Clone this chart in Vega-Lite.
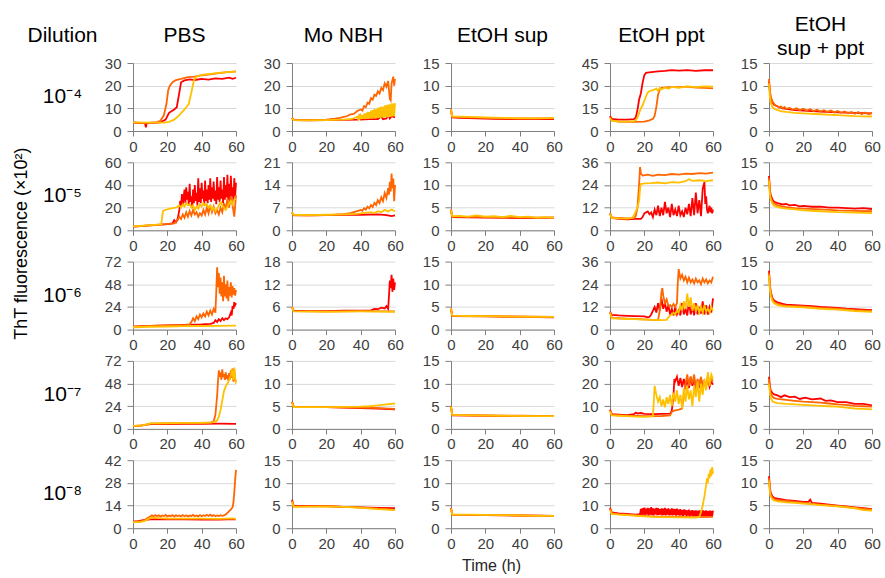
{
"$schema":"https://vega.github.io/schema/vega-lite/v6.json",
"padding":{"left":13,"top":14,"right":0,"bottom":0},
"title":{"text":"ThT fluorescence (×10²)","orient":"left","anchor":"middle","fontSize":18,"offset":-4,"dx":50},
"columns":6,
"spacing":{"row":31.3,"column":56},
"bounds":"flush",
"datasets":{
"a1":[{"s":1,"t":0,"v":3.7},{"s":1,"t":3,"v":3.6},{"s":1,"t":6,"v":3.5},{"s":1,"t":7,"v":3.4},{"s":1,"t":7.5,"v":1.6},{"s":1,"t":8,"v":3.5},{"s":1,"t":12,"v":3.6},{"s":1,"t":16,"v":3.8},{"s":1,"t":19,"v":5},{"s":1,"t":21,"v":8},{"s":1,"t":24,"v":9.5},{"s":1,"t":25.5,"v":10.5},{"s":1,"t":27,"v":17},{"s":1,"t":28,"v":21.5},{"s":1,"t":30,"v":22.3},{"s":1,"t":33,"v":22.8},{"s":1,"t":36,"v":22.5},{"s":1,"t":40,"v":23},{"s":1,"t":44,"v":22.7},{"s":1,"t":48,"v":23.2},{"s":1,"t":52,"v":23},{"s":1,"t":56,"v":23.5},{"s":1,"t":58,"v":23},{"s":1,"t":60,"v":23.5},
{"s":2,"t":0,"v":3.8},{"s":2,"t":5,"v":3.6},{"s":2,"t":10,"v":3.7},{"s":2,"t":14,"v":3.9},{"s":2,"t":16,"v":4.5},{"s":2,"t":18,"v":7},{"s":2,"t":19.5,"v":12},{"s":2,"t":20.5,"v":18},{"s":2,"t":21.5,"v":20},{"s":2,"t":23,"v":21.5},{"s":2,"t":25,"v":22.5},{"s":2,"t":28,"v":23},{"s":2,"t":32,"v":23.8},{"s":2,"t":36,"v":24},{"s":2,"t":40,"v":24.6},{"s":2,"t":45,"v":25},{"s":2,"t":50,"v":25.5},{"s":2,"t":55,"v":26},{"s":2,"t":60,"v":26.3},
{"s":3,"t":0,"v":3.8},{"s":3,"t":10,"v":3.7},{"s":3,"t":18,"v":3.7},{"s":3,"t":21,"v":4},{"s":3,"t":24,"v":5},{"s":3,"t":27,"v":7},{"s":3,"t":30,"v":9.5},{"s":3,"t":32.5,"v":12},{"s":3,"t":34,"v":17},{"s":3,"t":35.5,"v":22.5},{"s":3,"t":37,"v":24},{"s":3,"t":40,"v":24.8},{"s":3,"t":45,"v":25.2},{"s":3,"t":50,"v":25.6},{"s":3,"t":55,"v":26},{"s":3,"t":60,"v":26.2}],
"a2":[{"s":1,"t":0,"v":5.8},{"s":1,"t":1,"v":4.8},{"s":1,"t":10,"v":4.7},{"s":1,"t":20,"v":4.8},{"s":1,"t":30,"v":4.9},{"s":1,"t":38,"v":5},{"s":1,"t":39.5,"v":6.8},{"s":1,"t":40,"v":5},{"s":1,"t":45,"v":5.2},{"s":1,"t":50,"v":5.3},{"s":1,"t":52,"v":6.5},{"s":1,"t":53,"v":5.2},{"s":1,"t":55,"v":5.5},{"s":1,"t":56,"v":7.2},{"s":1,"t":57,"v":5.5},{"s":1,"t":58,"v":6.5},{"s":1,"t":60,"v":6},
{"s":2,"t":0,"v":5.8},{"s":2,"t":1,"v":4.9},{"s":2,"t":10,"v":4.8},{"s":2,"t":20,"v":5},{"s":2,"t":25,"v":5.4},{"s":2,"t":28,"v":5.8},{"s":2,"t":30,"v":6.2},{"s":2,"t":32,"v":6.5},{"s":2,"t":34,"v":7.3},{"s":2,"t":36,"v":7.5},{"s":2,"t":38,"v":8.8},{"s":2,"t":40,"v":9.5},{"s":2,"t":41,"v":9},{"s":2,"t":42,"v":11},{"s":2,"t":43,"v":10.5},{"s":2,"t":44,"v":12.5},{"s":2,"t":45,"v":12},{"s":2,"t":46,"v":14.5},{"s":2,"t":47,"v":13.8},{"s":2,"t":48,"v":16},{"s":2,"t":49,"v":15.5},{"s":2,"t":50,"v":17.5},{"s":2,"t":51,"v":16.5},{"s":2,"t":52,"v":19},{"s":2,"t":53,"v":18},{"s":2,"t":54,"v":21},{"s":2,"t":55,"v":19.5},{"s":2,"t":56,"v":22},{"s":2,"t":57,"v":14},{"s":2,"t":57.5,"v":13.5},{"s":2,"t":58,"v":21},{"s":2,"t":59,"v":24},{"s":2,"t":59.5,"v":20},{"s":2,"t":60,"v":23},
{"s":3,"t":0,"v":5.5},{"s":3,"t":1,"v":4.8},{"s":3,"t":10,"v":4.7},{"s":3,"t":20,"v":4.8},{"s":3,"t":30,"v":5},{"s":3,"t":35,"v":5.3},{"s":3,"t":38,"v":6.3},{"s":3,"t":38.5,"v":5.2},{"s":3,"t":39,"v":6.6},{"s":3,"t":39.5,"v":5.2},{"s":3,"t":40,"v":7.1},{"s":3,"t":40.5,"v":5.3},{"s":3,"t":41,"v":7},{"s":3,"t":41.5,"v":5.4},{"s":3,"t":42,"v":7.7},{"s":3,"t":42.5,"v":5.3},{"s":3,"t":43,"v":7.9},{"s":3,"t":43.5,"v":5.5},{"s":3,"t":44,"v":8.4},{"s":3,"t":44.5,"v":5.4},{"s":3,"t":45,"v":8.3},{"s":3,"t":45.5,"v":5.6},{"s":3,"t":46,"v":9},{"s":3,"t":46.5,"v":5.5},{"s":3,"t":47,"v":9.2},{"s":3,"t":47.5,"v":5.7},{"s":3,"t":48,"v":9.7},{"s":3,"t":48.5,"v":5.6},{"s":3,"t":49,"v":9.6},{"s":3,"t":49.5,"v":5.8},{"s":3,"t":50,"v":10.2},{"s":3,"t":50.5,"v":5.8},{"s":3,"t":51,"v":10.4},{"s":3,"t":51.5,"v":5.9},{"s":3,"t":52,"v":10.8},{"s":3,"t":52.5,"v":6},{"s":3,"t":53,"v":10.7},{"s":3,"t":53.5,"v":6},{"s":3,"t":54,"v":11.2},{"s":3,"t":54.5,"v":6.1},{"s":3,"t":55,"v":11.4},{"s":3,"t":55.5,"v":6.1},{"s":3,"t":56,"v":11.7},{"s":3,"t":56.5,"v":6.2},{"s":3,"t":57,"v":11.8},{"s":3,"t":57.5,"v":6.3},{"s":3,"t":58,"v":12.2},{"s":3,"t":58.5,"v":6.4},{"s":3,"t":59,"v":12.1},{"s":3,"t":59.5,"v":6.5},{"s":3,"t":60,"v":12.3}],
"a3":[{"s":1,"t":0,"v":4.6},{"s":1,"t":0.7,"v":3},{"s":1,"t":5,"v":2.9},{"s":1,"t":15,"v":2.8},{"s":1,"t":25,"v":2.7},{"s":1,"t":35,"v":2.6},{"s":1,"t":60,"v":2.6},
{"s":2,"t":0,"v":4.8},{"s":2,"t":0.7,"v":3.1},{"s":2,"t":10,"v":3},{"s":2,"t":20,"v":2.9},{"s":2,"t":30,"v":2.8},{"s":2,"t":60,"v":2.8},
{"s":3,"t":0,"v":4.7},{"s":3,"t":0.7,"v":3.2},{"s":3,"t":10,"v":3.1},{"s":3,"t":20,"v":3},{"s":3,"t":30,"v":2.9},{"s":3,"t":40,"v":2.8},{"s":3,"t":50,"v":2.8},{"s":3,"t":60,"v":2.9}],
"a4":[{"s":1,"t":0,"v":10},{"s":1,"t":1,"v":8},{"s":1,"t":5,"v":7.5},{"s":1,"t":10,"v":7.5},{"s":1,"t":14,"v":7.8},{"s":1,"t":15,"v":9},{"s":1,"t":16,"v":14},{"s":1,"t":17,"v":21},{"s":1,"t":18,"v":25},{"s":1,"t":19,"v":32},{"s":1,"t":20,"v":37},{"s":1,"t":21,"v":38.5},{"s":1,"t":24,"v":39},{"s":1,"t":28,"v":39.5},{"s":1,"t":32,"v":39.8},{"s":1,"t":36,"v":40.3},{"s":1,"t":40,"v":40},{"s":1,"t":45,"v":40.3},{"s":1,"t":50,"v":39.8},{"s":1,"t":55,"v":40.2},{"s":1,"t":60,"v":40.2},
{"s":2,"t":0,"v":9},{"s":2,"t":1,"v":7},{"s":2,"t":5,"v":6.2},{"s":2,"t":10,"v":6},{"s":2,"t":15,"v":6},{"s":2,"t":20,"v":6.2},{"s":2,"t":23,"v":7},{"s":2,"t":25,"v":8},{"s":2,"t":26,"v":10},{"s":2,"t":27,"v":16},{"s":2,"t":28,"v":24},{"s":2,"t":29,"v":27.5},{"s":2,"t":30,"v":28.5},{"s":2,"t":35,"v":29},{"s":2,"t":40,"v":29},{"s":2,"t":45,"v":29.3},{"s":2,"t":50,"v":28.8},{"s":2,"t":55,"v":28.5},{"s":2,"t":60,"v":28.2},
{"s":3,"t":0,"v":8.5},{"s":3,"t":1,"v":6.8},{"s":3,"t":5,"v":6.3},{"s":3,"t":10,"v":6.2},{"s":3,"t":14,"v":6.5},{"s":3,"t":15,"v":7},{"s":3,"t":16,"v":9},{"s":3,"t":17,"v":12},{"s":3,"t":18,"v":15},{"s":3,"t":19,"v":17},{"s":3,"t":20,"v":20},{"s":3,"t":21,"v":23},{"s":3,"t":22,"v":25.5},{"s":3,"t":23,"v":26.5},{"s":3,"t":25,"v":27},{"s":3,"t":27,"v":28},{"s":3,"t":28,"v":26.5},{"s":3,"t":29,"v":28.5},{"s":3,"t":30,"v":27.5},{"s":3,"t":32,"v":28.8},{"s":3,"t":34,"v":28},{"s":3,"t":36,"v":29.2},{"s":3,"t":40,"v":28.5},{"s":3,"t":45,"v":29.5},{"s":3,"t":50,"v":29},{"s":3,"t":55,"v":29.5},{"s":3,"t":60,"v":29.3}],
"a5":[{"s":1,"t":0,"v":11},{"s":1,"t":0.5,"v":8.5},{"s":1,"t":1,"v":7.3},{"s":1,"t":2,"v":6.3},{"s":1,"t":3,"v":5.8},{"s":1,"t":5,"v":5.4},{"s":1,"t":8,"v":5},{"s":1,"t":10,"v":4.9},{"s":1,"t":15,"v":4.6},{"s":1,"t":20,"v":4.5},{"s":1,"t":30,"v":4.3},{"s":1,"t":40,"v":4.1},{"s":1,"t":50,"v":4},{"s":1,"t":60,"v":3.9},
{"s":2,"t":0,"v":11.5},{"s":2,"t":0.5,"v":9},{"s":2,"t":1,"v":7.6},{"s":2,"t":2,"v":6.5},{"s":2,"t":3,"v":6},{"s":2,"t":4,"v":5.6},{"s":2,"t":5,"v":5.5},{"s":2,"t":6,"v":5.1},{"s":2,"t":7,"v":5.4},{"s":2,"t":8,"v":5},{"s":2,"t":9,"v":5.3},{"s":2,"t":10,"v":4.9},{"s":2,"t":12,"v":5.1},{"s":2,"t":14,"v":4.7},{"s":2,"t":16,"v":5},{"s":2,"t":18,"v":4.6},{"s":2,"t":20,"v":4.9},{"s":2,"t":22,"v":4.5},{"s":2,"t":24,"v":4.8},{"s":2,"t":26,"v":4.4},{"s":2,"t":28,"v":4.7},{"s":2,"t":30,"v":4.3},{"s":2,"t":32,"v":4.6},{"s":2,"t":34,"v":4.2},{"s":2,"t":36,"v":4.5},{"s":2,"t":38,"v":4.1},{"s":2,"t":40,"v":4.4},{"s":2,"t":42,"v":4},{"s":2,"t":44,"v":4.3},{"s":2,"t":46,"v":3.9},{"s":2,"t":48,"v":4.2},{"s":2,"t":50,"v":3.8},{"s":2,"t":52,"v":4.2},{"s":2,"t":54,"v":3.7},{"s":2,"t":56,"v":4.1},{"s":2,"t":58,"v":3.7},{"s":2,"t":60,"v":4},
{"s":3,"t":0,"v":10.5},{"s":3,"t":0.5,"v":7.5},{"s":3,"t":1,"v":6.2},{"s":3,"t":2,"v":5.3},{"s":3,"t":3,"v":4.9},{"s":3,"t":5,"v":4.6},{"s":3,"t":8,"v":4.3},{"s":3,"t":10,"v":4.2},{"s":3,"t":15,"v":4},{"s":3,"t":20,"v":3.9},{"s":3,"t":30,"v":3.7},{"s":3,"t":40,"v":3.5},{"s":3,"t":50,"v":3.3},{"s":3,"t":60,"v":3.2}],
"b1":[{"s":1,"t":0,"v":3.2},{"s":1,"t":10,"v":4.3},{"s":1,"t":20,"v":5.5},{"s":1,"t":23,"v":6},{"s":1,"t":24,"v":9},{"s":1,"t":25,"v":7},{"s":1,"t":26,"v":10},{"s":1,"t":27,"v":18},{"s":1,"t":27.5,"v":26},{"s":1,"t":28,"v":20},{"s":1,"t":28.5,"v":32},{"s":1,"t":29,"v":22},{"s":1,"t":30,"v":36},{"s":1,"t":30.5,"v":24},{"s":1,"t":31,"v":38},{"s":1,"t":31.5,"v":27},{"s":1,"t":32,"v":34},{"s":1,"t":32.5,"v":22},{"s":1,"t":33,"v":41},{"s":1,"t":33.5,"v":25},{"s":1,"t":34,"v":30},{"s":1,"t":34.5,"v":20},{"s":1,"t":35,"v":36},{"s":1,"t":35.5,"v":24},{"s":1,"t":36,"v":40},{"s":1,"t":36.5,"v":26},{"s":1,"t":37,"v":33},{"s":1,"t":37.5,"v":22},{"s":1,"t":38,"v":46},{"s":1,"t":38.5,"v":25},{"s":1,"t":39,"v":37},{"s":1,"t":39.5,"v":24},{"s":1,"t":40,"v":42},{"s":1,"t":40.5,"v":28},{"s":1,"t":41,"v":35},{"s":1,"t":41.5,"v":22},{"s":1,"t":42,"v":44},{"s":1,"t":42.5,"v":26},{"s":1,"t":43,"v":36},{"s":1,"t":43.5,"v":24},{"s":1,"t":44,"v":40},{"s":1,"t":44.5,"v":27},{"s":1,"t":45,"v":46},{"s":1,"t":45.5,"v":25},{"s":1,"t":46,"v":38},{"s":1,"t":46.5,"v":28},{"s":1,"t":47,"v":43},{"s":1,"t":47.5,"v":26},{"s":1,"t":48,"v":35},{"s":1,"t":48.5,"v":23},{"s":1,"t":49,"v":47},{"s":1,"t":49.5,"v":27},{"s":1,"t":50,"v":38},{"s":1,"t":50.5,"v":25},{"s":1,"t":51,"v":44},{"s":1,"t":51.5,"v":28},{"s":1,"t":52,"v":36},{"s":1,"t":52.5,"v":24},{"s":1,"t":53,"v":47},{"s":1,"t":53.5,"v":27},{"s":1,"t":54,"v":40},{"s":1,"t":54.5,"v":29},{"s":1,"t":55,"v":49},{"s":1,"t":55.5,"v":27},{"s":1,"t":56,"v":41},{"s":1,"t":56.5,"v":25},{"s":1,"t":57,"v":48},{"s":1,"t":57.5,"v":30},{"s":1,"t":58,"v":38},{"s":1,"t":58.5,"v":26},{"s":1,"t":59,"v":46},{"s":1,"t":59.5,"v":30},{"s":1,"t":60,"v":42},
{"s":2,"t":0,"v":3.3},{"s":2,"t":10,"v":4.4},{"s":2,"t":20,"v":5.5},{"s":2,"t":24,"v":6},{"s":2,"t":25,"v":7.5},{"s":2,"t":26,"v":9},{"s":2,"t":27,"v":12},{"s":2,"t":28,"v":10},{"s":2,"t":29,"v":14},{"s":2,"t":30,"v":11},{"s":2,"t":31,"v":16},{"s":2,"t":32,"v":12},{"s":2,"t":33,"v":17},{"s":2,"t":34,"v":13},{"s":2,"t":35,"v":18},{"s":2,"t":36,"v":14},{"s":2,"t":37,"v":16},{"s":2,"t":38,"v":12},{"s":2,"t":39,"v":15},{"s":2,"t":40,"v":13},{"s":2,"t":41,"v":18},{"s":2,"t":42,"v":14},{"s":2,"t":43,"v":20},{"s":2,"t":44,"v":15},{"s":2,"t":45,"v":22},{"s":2,"t":46,"v":16},{"s":2,"t":47,"v":21},{"s":2,"t":48,"v":15},{"s":2,"t":49,"v":18},{"s":2,"t":50,"v":14},{"s":2,"t":51,"v":20},{"s":2,"t":52,"v":16},{"s":2,"t":53,"v":24},{"s":2,"t":54,"v":18},{"s":2,"t":55,"v":28},{"s":2,"t":56,"v":20},{"s":2,"t":57,"v":30},{"s":2,"t":58,"v":22},{"s":2,"t":59,"v":12},{"s":2,"t":60,"v":31},
{"s":3,"t":0,"v":3.4},{"s":3,"t":10,"v":4.5},{"s":3,"t":16.5,"v":5.3},{"s":3,"t":17,"v":12},{"s":3,"t":17.5,"v":17},{"s":3,"t":19,"v":18},{"s":3,"t":21,"v":19},{"s":3,"t":23,"v":19.5},{"s":3,"t":25,"v":20},{"s":3,"t":26,"v":21},{"s":3,"t":27,"v":22},{"s":3,"t":28,"v":20},{"s":3,"t":29,"v":23},{"s":3,"t":30,"v":21},{"s":3,"t":31,"v":24},{"s":3,"t":32,"v":22},{"s":3,"t":33,"v":23},{"s":3,"t":34,"v":20},{"s":3,"t":35,"v":22},{"s":3,"t":36,"v":18},{"s":3,"t":37,"v":21},{"s":3,"t":38,"v":19},{"s":3,"t":39,"v":23},{"s":3,"t":40,"v":21},{"s":3,"t":41,"v":24},{"s":3,"t":42,"v":22},{"s":3,"t":43,"v":23},{"s":3,"t":44,"v":20},{"s":3,"t":45,"v":22},{"s":3,"t":46,"v":18},{"s":3,"t":47,"v":20},{"s":3,"t":48,"v":17},{"s":3,"t":49,"v":19},{"s":3,"t":50,"v":22},{"s":3,"t":51,"v":25},{"s":3,"t":52,"v":22},{"s":3,"t":53,"v":20},{"s":3,"t":54,"v":18},{"s":3,"t":55,"v":21},{"s":3,"t":56,"v":24},{"s":3,"t":57,"v":26},{"s":3,"t":58,"v":23},{"s":3,"t":59,"v":27},{"s":3,"t":60,"v":28}],
"b2":[{"s":1,"t":0,"v":5.5},{"s":1,"t":1,"v":4.7},{"s":1,"t":10,"v":4.6},{"s":1,"t":20,"v":4.7},{"s":1,"t":30,"v":4.8},{"s":1,"t":40,"v":4.8},{"s":1,"t":50,"v":4.9},{"s":1,"t":55,"v":4.7},{"s":1,"t":58,"v":4.4},{"s":1,"t":60,"v":4.6},
{"s":2,"t":0,"v":5.4},{"s":2,"t":1,"v":4.6},{"s":2,"t":10,"v":4.6},{"s":2,"t":20,"v":4.7},{"s":2,"t":30,"v":5},{"s":2,"t":34,"v":5.3},{"s":2,"t":36,"v":5.6},{"s":2,"t":38,"v":5.9},{"s":2,"t":40,"v":6.3},{"s":2,"t":41,"v":6},{"s":2,"t":42,"v":6.8},{"s":2,"t":43,"v":6.4},{"s":2,"t":44,"v":7.3},{"s":2,"t":45,"v":6.8},{"s":2,"t":46,"v":7.8},{"s":2,"t":47,"v":7.2},{"s":2,"t":48,"v":8.5},{"s":2,"t":49,"v":7.8},{"s":2,"t":50,"v":9.3},{"s":2,"t":51,"v":8.4},{"s":2,"t":52,"v":10.2},{"s":2,"t":53,"v":9},{"s":2,"t":54,"v":11.5},{"s":2,"t":55,"v":10},{"s":2,"t":56,"v":13},{"s":2,"t":56.5,"v":11},{"s":2,"t":57,"v":15},{"s":2,"t":57.5,"v":12},{"s":2,"t":58,"v":17.5},{"s":2,"t":58.5,"v":13},{"s":2,"t":59,"v":16},{"s":2,"t":59.5,"v":9},{"s":2,"t":60,"v":14},
{"s":3,"t":0,"v":5.6},{"s":3,"t":1,"v":4.8},{"s":3,"t":10,"v":4.7},{"s":3,"t":20,"v":4.8},{"s":3,"t":30,"v":4.9},{"s":3,"t":38,"v":5.1},{"s":3,"t":42,"v":5.4},{"s":3,"t":46,"v":5.6},{"s":3,"t":48,"v":5.3},{"s":3,"t":50,"v":5.9},{"s":3,"t":52,"v":5.6},{"s":3,"t":54,"v":6.3},{"s":3,"t":56,"v":5.8},{"s":3,"t":58,"v":6.4},{"s":3,"t":60,"v":5.9}],
"b3":[{"s":1,"t":0,"v":4.5},{"s":1,"t":0.7,"v":2.9},{"s":1,"t":20,"v":2.8},{"s":1,"t":40,"v":2.7},{"s":1,"t":60,"v":2.8},
{"s":2,"t":0,"v":4.6},{"s":2,"t":0.7,"v":3},{"s":2,"t":20,"v":2.9},{"s":2,"t":40,"v":2.8},{"s":2,"t":60,"v":2.8},
{"s":3,"t":0,"v":4.5},{"s":3,"t":0.7,"v":3.1},{"s":3,"t":5,"v":3.2},{"s":3,"t":10,"v":3},{"s":3,"t":15,"v":3.3},{"s":3,"t":20,"v":3},{"s":3,"t":25,"v":3.1},{"s":3,"t":30,"v":2.9},{"s":3,"t":35,"v":3.2},{"s":3,"t":40,"v":2.9},{"s":3,"t":45,"v":3},{"s":3,"t":50,"v":2.8},{"s":3,"t":55,"v":2.9},{"s":3,"t":60,"v":2.8}],
"b4":[{"s":1,"t":0,"v":9},{"s":1,"t":1,"v":6.5},{"s":1,"t":5,"v":6},{"s":1,"t":10,"v":5.8},{"s":1,"t":15,"v":6},{"s":1,"t":18,"v":6},{"s":1,"t":19,"v":7},{"s":1,"t":20,"v":9},{"s":1,"t":21,"v":9.5},{"s":1,"t":22,"v":10},{"s":1,"t":23,"v":8.5},{"s":1,"t":24,"v":9.5},{"s":1,"t":25,"v":7},{"s":1,"t":26,"v":11},{"s":1,"t":27,"v":8},{"s":1,"t":28,"v":13},{"s":1,"t":29,"v":7.5},{"s":1,"t":30,"v":12},{"s":1,"t":31,"v":8},{"s":1,"t":32,"v":15},{"s":1,"t":33,"v":9},{"s":1,"t":34,"v":12},{"s":1,"t":35,"v":7},{"s":1,"t":36,"v":14},{"s":1,"t":37,"v":8},{"s":1,"t":38,"v":11},{"s":1,"t":39,"v":7.5},{"s":1,"t":40,"v":13},{"s":1,"t":41,"v":8},{"s":1,"t":42,"v":10},{"s":1,"t":43,"v":7},{"s":1,"t":44,"v":12},{"s":1,"t":45,"v":8.5},{"s":1,"t":46,"v":14},{"s":1,"t":47,"v":7.5},{"s":1,"t":48,"v":17},{"s":1,"t":49,"v":8},{"s":1,"t":50,"v":20},{"s":1,"t":51,"v":9},{"s":1,"t":52,"v":16},{"s":1,"t":53,"v":7.5},{"s":1,"t":54,"v":22},{"s":1,"t":55,"v":25.5},{"s":1,"t":55.5,"v":14},{"s":1,"t":56,"v":18},{"s":1,"t":56.5,"v":11},{"s":1,"t":57,"v":9},{"s":1,"t":58,"v":13},{"s":1,"t":58.5,"v":9.5},{"s":1,"t":59,"v":12},{"s":1,"t":59.5,"v":9},{"s":1,"t":60,"v":11},
{"s":2,"t":0,"v":9},{"s":2,"t":1,"v":6.8},{"s":2,"t":5,"v":6.5},{"s":2,"t":10,"v":6.3},{"s":2,"t":14,"v":6.4},{"s":2,"t":15,"v":7.5},{"s":2,"t":16,"v":12},{"s":2,"t":17,"v":25},{"s":2,"t":17.5,"v":33.5},{"s":2,"t":18,"v":30},{"s":2,"t":19,"v":29},{"s":2,"t":22,"v":29.5},{"s":2,"t":25,"v":28.8},{"s":2,"t":28,"v":29.5},{"s":2,"t":32,"v":29.2},{"s":2,"t":36,"v":29.8},{"s":2,"t":40,"v":29.5},{"s":2,"t":44,"v":30},{"s":2,"t":48,"v":29.8},{"s":2,"t":52,"v":30.3},{"s":2,"t":56,"v":30},{"s":2,"t":60,"v":30.5},
{"s":3,"t":0,"v":8.8},{"s":3,"t":1,"v":6.5},{"s":3,"t":5,"v":6.3},{"s":3,"t":10,"v":6.2},{"s":3,"t":13,"v":6.5},{"s":3,"t":14,"v":8},{"s":3,"t":15,"v":10},{"s":3,"t":16,"v":12},{"s":3,"t":17,"v":16},{"s":3,"t":17.5,"v":22},{"s":3,"t":18,"v":24.5},{"s":3,"t":20,"v":24.8},{"s":3,"t":24,"v":25},{"s":3,"t":28,"v":25.3},{"s":3,"t":32,"v":24.8},{"s":3,"t":36,"v":25.5},{"s":3,"t":40,"v":25.2},{"s":3,"t":44,"v":26},{"s":3,"t":46,"v":27},{"s":3,"t":48,"v":26.2},{"s":3,"t":52,"v":26.5},{"s":3,"t":56,"v":26},{"s":3,"t":60,"v":26.5}],
"b5":[{"s":1,"t":0,"v":12},{"s":1,"t":0.5,"v":9},{"s":1,"t":1,"v":7.8},{"s":1,"t":2,"v":6.8},{"s":1,"t":3,"v":6.3},{"s":1,"t":5,"v":6},{"s":1,"t":8,"v":5.7},{"s":1,"t":10,"v":5.8},{"s":1,"t":12,"v":5.5},{"s":1,"t":15,"v":5.6},{"s":1,"t":18,"v":5.3},{"s":1,"t":20,"v":5.4},{"s":1,"t":25,"v":5.2},{"s":1,"t":30,"v":5.2},{"s":1,"t":35,"v":5},{"s":1,"t":40,"v":5},{"s":1,"t":45,"v":4.9},{"s":1,"t":50,"v":4.8},{"s":1,"t":55,"v":4.9},{"s":1,"t":60,"v":4.7},
{"s":2,"t":0,"v":11.5},{"s":2,"t":0.5,"v":8.5},{"s":2,"t":1,"v":7.2},{"s":2,"t":2,"v":6.3},{"s":2,"t":3,"v":5.9},{"s":2,"t":5,"v":5.5},{"s":2,"t":8,"v":5.2},{"s":2,"t":10,"v":5.1},{"s":2,"t":15,"v":4.9},{"s":2,"t":20,"v":4.8},{"s":2,"t":30,"v":4.6},{"s":2,"t":40,"v":4.4},{"s":2,"t":50,"v":4.3},{"s":2,"t":60,"v":4.2},
{"s":3,"t":0,"v":11},{"s":3,"t":0.5,"v":8},{"s":3,"t":1,"v":6.8},{"s":3,"t":2,"v":5.9},{"s":3,"t":3,"v":5.4},{"s":3,"t":5,"v":5.1},{"s":3,"t":8,"v":4.9},{"s":3,"t":10,"v":4.8},{"s":3,"t":15,"v":4.6},{"s":3,"t":20,"v":4.4},{"s":3,"t":30,"v":4.2},{"s":3,"t":40,"v":4},{"s":3,"t":50,"v":3.9},{"s":3,"t":60,"v":3.8}],
"c1":[{"s":1,"t":0,"v":3},{"s":1,"t":10,"v":4},{"s":1,"t":20,"v":4.5},{"s":1,"t":30,"v":5},{"s":1,"t":40,"v":5.5},{"s":1,"t":45,"v":6},{"s":1,"t":47,"v":7},{"s":1,"t":48,"v":10},{"s":1,"t":49,"v":8},{"s":1,"t":50,"v":11},{"s":1,"t":51,"v":9},{"s":1,"t":52,"v":12},{"s":1,"t":53,"v":10},{"s":1,"t":54,"v":12},{"s":1,"t":55,"v":11},{"s":1,"t":56,"v":13},{"s":1,"t":57,"v":18},{"s":1,"t":57.5,"v":15},{"s":1,"t":58,"v":25},{"s":1,"t":58.5,"v":22},{"s":1,"t":59,"v":29},{"s":1,"t":59.5,"v":26},{"s":1,"t":60,"v":28},
{"s":2,"t":0,"v":3},{"s":2,"t":10,"v":4},{"s":2,"t":20,"v":4.5},{"s":2,"t":30,"v":5},{"s":2,"t":33,"v":5.5},{"s":2,"t":34,"v":8},{"s":2,"t":35,"v":12},{"s":2,"t":36,"v":9},{"s":2,"t":37,"v":14},{"s":2,"t":38,"v":11},{"s":2,"t":39,"v":16},{"s":2,"t":40,"v":13},{"s":2,"t":41,"v":17},{"s":2,"t":42,"v":14},{"s":2,"t":43,"v":19},{"s":2,"t":44,"v":15},{"s":2,"t":45,"v":20},{"s":2,"t":46,"v":16},{"s":2,"t":47,"v":22},{"s":2,"t":48,"v":18},{"s":2,"t":48.5,"v":40},{"s":2,"t":49,"v":66},{"s":2,"t":49.5,"v":45},{"s":2,"t":50,"v":60},{"s":2,"t":50.5,"v":38},{"s":2,"t":51,"v":55},{"s":2,"t":51.5,"v":35},{"s":2,"t":52,"v":50},{"s":2,"t":52.5,"v":30},{"s":2,"t":53,"v":57},{"s":2,"t":53.5,"v":35},{"s":2,"t":54,"v":48},{"s":2,"t":54.5,"v":33},{"s":2,"t":55,"v":52},{"s":2,"t":55.5,"v":30},{"s":2,"t":56,"v":45},{"s":2,"t":56.5,"v":36},{"s":2,"t":57,"v":50},{"s":2,"t":57.5,"v":34},{"s":2,"t":58,"v":46},{"s":2,"t":58.5,"v":37},{"s":2,"t":59,"v":44},{"s":2,"t":59.5,"v":36},{"s":2,"t":60,"v":42},
{"s":3,"t":0,"v":2.5},{"s":3,"t":10,"v":3},{"s":3,"t":20,"v":3.3},{"s":3,"t":30,"v":3.6},{"s":3,"t":40,"v":3.8},{"s":3,"t":50,"v":4},{"s":3,"t":60,"v":4.2}],
"c2":[{"s":1,"t":0,"v":6},{"s":1,"t":1,"v":5},{"s":1,"t":10,"v":4.9},{"s":1,"t":20,"v":4.9},{"s":1,"t":30,"v":5},{"s":1,"t":40,"v":5},{"s":1,"t":46,"v":5.1},{"s":1,"t":48,"v":5.5},{"s":1,"t":50,"v":5.4},{"s":1,"t":52,"v":5.8},{"s":1,"t":54,"v":5.6},{"s":1,"t":55,"v":6.2},{"s":1,"t":56,"v":5.5},{"s":1,"t":56.5,"v":9},{"s":1,"t":57,"v":13},{"s":1,"t":57.5,"v":11},{"s":1,"t":58,"v":14.5},{"s":1,"t":58.5,"v":10},{"s":1,"t":59,"v":13.5},{"s":1,"t":59.5,"v":10.5},{"s":1,"t":60,"v":12.5},
{"s":2,"t":0,"v":5.9},{"s":2,"t":1,"v":4.9},{"s":2,"t":20,"v":4.8},{"s":2,"t":40,"v":4.9},{"s":2,"t":60,"v":4.8},
{"s":3,"t":0,"v":6},{"s":3,"t":1,"v":4.8},{"s":3,"t":20,"v":4.7},{"s":3,"t":40,"v":4.8},{"s":3,"t":60,"v":4.7}],
"c3":[{"s":1,"t":0,"v":4.6},{"s":1,"t":0.7,"v":3},{"s":1,"t":20,"v":2.9},{"s":1,"t":40,"v":2.8},{"s":1,"t":60,"v":2.7},
{"s":2,"t":0,"v":4.7},{"s":2,"t":0.7,"v":3.1},{"s":2,"t":20,"v":3},{"s":2,"t":40,"v":2.9},{"s":2,"t":60,"v":2.8},
{"s":3,"t":0,"v":4.7},{"s":3,"t":0.7,"v":3.1},{"s":3,"t":10,"v":3},{"s":3,"t":30,"v":2.9},{"s":3,"t":50,"v":2.8},{"s":3,"t":60,"v":2.8}],
"c4":[{"s":1,"t":0,"v":9.5},{"s":1,"t":1,"v":7.8},{"s":1,"t":5,"v":7.5},{"s":1,"t":10,"v":7.3},{"s":1,"t":15,"v":7.1},{"s":1,"t":20,"v":7},{"s":1,"t":22,"v":6.5},{"s":1,"t":23,"v":6.8},{"s":1,"t":24,"v":8},{"s":1,"t":25,"v":10},{"s":1,"t":26,"v":12},{"s":1,"t":27,"v":9},{"s":1,"t":28,"v":14},{"s":1,"t":29,"v":10},{"s":1,"t":30,"v":16.5},{"s":1,"t":31,"v":11},{"s":1,"t":32,"v":14},{"s":1,"t":33,"v":9.5},{"s":1,"t":34,"v":13},{"s":1,"t":35,"v":8},{"s":1,"t":36,"v":11},{"s":1,"t":37,"v":7.5},{"s":1,"t":38,"v":12},{"s":1,"t":39,"v":8},{"s":1,"t":40,"v":10},{"s":1,"t":41,"v":7.5},{"s":1,"t":42,"v":14},{"s":1,"t":43,"v":8},{"s":1,"t":44,"v":11},{"s":1,"t":45,"v":7.5},{"s":1,"t":46,"v":15},{"s":1,"t":47,"v":8},{"s":1,"t":48,"v":12},{"s":1,"t":49,"v":7.5},{"s":1,"t":50,"v":14},{"s":1,"t":51,"v":8},{"s":1,"t":52,"v":12},{"s":1,"t":53,"v":8.5},{"s":1,"t":54,"v":15},{"s":1,"t":55,"v":8},{"s":1,"t":56,"v":13},{"s":1,"t":57,"v":8},{"s":1,"t":58,"v":12},{"s":1,"t":59,"v":9},{"s":1,"t":60,"v":16.5},
{"s":2,"t":0,"v":9},{"s":2,"t":1,"v":6.2},{"s":2,"t":5,"v":6},{"s":2,"t":10,"v":5.8},{"s":2,"t":15,"v":5.6},{"s":2,"t":20,"v":5.4},{"s":2,"t":25,"v":5.2},{"s":2,"t":28,"v":5.1},{"s":2,"t":29,"v":10},{"s":2,"t":30,"v":20},{"s":2,"t":30.5,"v":22},{"s":2,"t":31,"v":18},{"s":2,"t":32,"v":14},{"s":2,"t":33,"v":16},{"s":2,"t":34,"v":12.5},{"s":2,"t":35,"v":13},{"s":2,"t":36,"v":12},{"s":2,"t":37,"v":13.5},{"s":2,"t":38,"v":12},{"s":2,"t":39,"v":14},{"s":2,"t":39.5,"v":25},{"s":2,"t":40,"v":32},{"s":2,"t":41,"v":27},{"s":2,"t":42,"v":29},{"s":2,"t":43,"v":26},{"s":2,"t":44,"v":28},{"s":2,"t":45,"v":25},{"s":2,"t":46,"v":27.5},{"s":2,"t":47,"v":25},{"s":2,"t":48,"v":26.5},{"s":2,"t":49,"v":24.5},{"s":2,"t":50,"v":27},{"s":2,"t":51,"v":25},{"s":2,"t":52,"v":26},{"s":2,"t":53,"v":24},{"s":2,"t":54,"v":27},{"s":2,"t":55,"v":25},{"s":2,"t":56,"v":26.5},{"s":2,"t":57,"v":24.5},{"s":2,"t":58,"v":26},{"s":2,"t":59,"v":25},{"s":2,"t":60,"v":28},
{"s":3,"t":0,"v":9},{"s":3,"t":1,"v":6},{"s":3,"t":5,"v":5.8},{"s":3,"t":10,"v":5.6},{"s":3,"t":15,"v":5.5},{"s":3,"t":20,"v":5.3},{"s":3,"t":25,"v":5.1},{"s":3,"t":30,"v":5},{"s":3,"t":33,"v":5.2},{"s":3,"t":34,"v":6.5},{"s":3,"t":35,"v":7.5},{"s":3,"t":36,"v":8},{"s":3,"t":37,"v":9},{"s":3,"t":38,"v":8},{"s":3,"t":39,"v":10},{"s":3,"t":40,"v":9},{"s":3,"t":41,"v":13},{"s":3,"t":42,"v":10},{"s":3,"t":43,"v":15},{"s":3,"t":44,"v":11},{"s":3,"t":45,"v":19},{"s":3,"t":46,"v":12},{"s":3,"t":47,"v":17},{"s":3,"t":48,"v":10},{"s":3,"t":49,"v":14},{"s":3,"t":50,"v":9.5},{"s":3,"t":51,"v":13},{"s":3,"t":52,"v":9},{"s":3,"t":53,"v":12},{"s":3,"t":54,"v":9},{"s":3,"t":55,"v":13},{"s":3,"t":56,"v":9.5},{"s":3,"t":57,"v":11},{"s":3,"t":58,"v":9},{"s":3,"t":59,"v":12},{"s":3,"t":60,"v":10}],
"c5":[{"s":1,"t":0,"v":13},{"s":1,"t":0.5,"v":10},{"s":1,"t":1,"v":8.3},{"s":1,"t":2,"v":7},{"s":1,"t":3,"v":6.4},{"s":1,"t":5,"v":6},{"s":1,"t":8,"v":5.7},{"s":1,"t":10,"v":5.5},{"s":1,"t":15,"v":5.4},{"s":1,"t":20,"v":5.3},{"s":1,"t":25,"v":5.2},{"s":1,"t":30,"v":5},{"s":1,"t":35,"v":4.9},{"s":1,"t":40,"v":4.8},{"s":1,"t":45,"v":4.6},{"s":1,"t":50,"v":4.5},{"s":1,"t":55,"v":4.4},{"s":1,"t":60,"v":4.3},
{"s":2,"t":0,"v":12.5},{"s":2,"t":0.5,"v":9.5},{"s":2,"t":1,"v":8},{"s":2,"t":2,"v":6.7},{"s":2,"t":3,"v":6.1},{"s":2,"t":5,"v":5.7},{"s":2,"t":8,"v":5.4},{"s":2,"t":10,"v":5.3},{"s":2,"t":15,"v":5.2},{"s":2,"t":20,"v":5.1},{"s":2,"t":30,"v":4.8},{"s":2,"t":40,"v":4.6},{"s":2,"t":50,"v":4.3},{"s":2,"t":60,"v":4.1},
{"s":3,"t":0,"v":12},{"s":3,"t":0.5,"v":9},{"s":3,"t":1,"v":7.5},{"s":3,"t":2,"v":6.3},{"s":3,"t":3,"v":5.8},{"s":3,"t":5,"v":5.4},{"s":3,"t":8,"v":5.2},{"s":3,"t":10,"v":5.1},{"s":3,"t":15,"v":5},{"s":3,"t":20,"v":4.9},{"s":3,"t":30,"v":4.6},{"s":3,"t":40,"v":4.4},{"s":3,"t":50,"v":4.1},{"s":3,"t":60,"v":3.9}],
"d1":[{"s":1,"t":0,"v":3},{"s":1,"t":5,"v":3.8},{"s":1,"t":8,"v":4.5},{"s":1,"t":10,"v":5},{"s":1,"t":20,"v":5.2},{"s":1,"t":30,"v":5.3},{"s":1,"t":40,"v":5.4},{"s":1,"t":50,"v":5.5},{"s":1,"t":60,"v":5.3},
{"s":2,"t":0,"v":3},{"s":2,"t":5,"v":3.5},{"s":2,"t":8,"v":4.5},{"s":2,"t":10,"v":5.5},{"s":2,"t":20,"v":5.8},{"s":2,"t":30,"v":6},{"s":2,"t":40,"v":6.2},{"s":2,"t":45,"v":6.5},{"s":2,"t":47,"v":8},{"s":2,"t":48,"v":15},{"s":2,"t":48.5,"v":25},{"s":2,"t":49,"v":35},{"s":2,"t":49.5,"v":50},{"s":2,"t":50,"v":62},{"s":2,"t":50.5,"v":55},{"s":2,"t":51,"v":60},{"s":2,"t":51.5,"v":52},{"s":2,"t":52,"v":63},{"s":2,"t":52.5,"v":55},{"s":2,"t":53,"v":58},{"s":2,"t":53.5,"v":52},{"s":2,"t":54,"v":60},{"s":2,"t":54.5,"v":53},{"s":2,"t":55,"v":57},{"s":2,"t":55.5,"v":51},{"s":2,"t":56,"v":59},{"s":2,"t":56.5,"v":52},{"s":2,"t":57,"v":62},{"s":2,"t":57.5,"v":54},{"s":2,"t":58,"v":64},{"s":2,"t":58.5,"v":50},{"s":2,"t":59,"v":63},{"s":2,"t":59.5,"v":52},{"s":2,"t":60,"v":50},
{"s":3,"t":0,"v":3.2},{"s":3,"t":5,"v":3.7},{"s":3,"t":8,"v":4.8},{"s":3,"t":10,"v":5.8},{"s":3,"t":20,"v":6},{"s":3,"t":30,"v":6.3},{"s":3,"t":40,"v":6.5},{"s":3,"t":46,"v":7},{"s":3,"t":48,"v":7.5},{"s":3,"t":49,"v":9},{"s":3,"t":50,"v":13},{"s":3,"t":51,"v":20},{"s":3,"t":52,"v":30},{"s":3,"t":53,"v":40},{"s":3,"t":54,"v":45},{"s":3,"t":55,"v":48},{"s":3,"t":56,"v":52},{"s":3,"t":57,"v":56},{"s":3,"t":57.5,"v":63},{"s":3,"t":58,"v":60},{"s":3,"t":58.5,"v":52},{"s":3,"t":59,"v":65},{"s":3,"t":59.5,"v":55},{"s":3,"t":60,"v":48}],
"d2":[{"s":1,"t":0,"v":6},{"s":1,"t":1,"v":4.9},{"s":1,"t":20,"v":4.8},{"s":1,"t":40,"v":4.6},{"s":1,"t":50,"v":4.5},{"s":1,"t":60,"v":4.3},
{"s":2,"t":0,"v":5.9},{"s":2,"t":1,"v":4.9},{"s":2,"t":20,"v":4.8},{"s":2,"t":40,"v":4.7},{"s":2,"t":50,"v":4.6},{"s":2,"t":60,"v":4.4},
{"s":3,"t":0,"v":5.8},{"s":3,"t":1,"v":4.8},{"s":3,"t":20,"v":4.8},{"s":3,"t":40,"v":4.9},{"s":3,"t":45,"v":5},{"s":3,"t":50,"v":5.2},{"s":3,"t":55,"v":5.4},{"s":3,"t":60,"v":5.6}],
"d3":[{"s":1,"t":0,"v":5},{"s":1,"t":0.7,"v":3},{"s":1,"t":20,"v":2.9},{"s":1,"t":40,"v":2.8},{"s":1,"t":60,"v":2.8},
{"s":2,"t":0,"v":5},{"s":2,"t":0.7,"v":3.1},{"s":2,"t":20,"v":3},{"s":2,"t":40,"v":2.9},{"s":2,"t":60,"v":2.8},
{"s":3,"t":0,"v":4.9},{"s":3,"t":0.7,"v":3.1},{"s":3,"t":10,"v":3},{"s":3,"t":30,"v":2.9},{"s":3,"t":50,"v":2.8},{"s":3,"t":60,"v":2.8}],
"d4":[{"s":1,"t":0,"v":8.5},{"s":1,"t":1,"v":6.5},{"s":1,"t":5,"v":6.3},{"s":1,"t":10,"v":6.1},{"s":1,"t":14,"v":6.5},{"s":1,"t":15,"v":7.2},{"s":1,"t":16,"v":6.8},{"s":1,"t":18,"v":7},{"s":1,"t":20,"v":6.6},{"s":1,"t":25,"v":6.5},{"s":1,"t":30,"v":6.6},{"s":1,"t":35,"v":6.7},{"s":1,"t":36,"v":8},{"s":1,"t":37,"v":15},{"s":1,"t":37.5,"v":22},{"s":1,"t":38,"v":21},{"s":1,"t":39,"v":23},{"s":1,"t":40,"v":19},{"s":1,"t":41,"v":22.5},{"s":1,"t":42,"v":18.5},{"s":1,"t":43,"v":22},{"s":1,"t":44,"v":19},{"s":1,"t":45,"v":21.5},{"s":1,"t":46,"v":18},{"s":1,"t":47,"v":23},{"s":1,"t":48,"v":19},{"s":1,"t":49,"v":22},{"s":1,"t":50,"v":18.5},{"s":1,"t":51,"v":21},{"s":1,"t":52,"v":19},{"s":1,"t":53,"v":22.5},{"s":1,"t":54,"v":18},{"s":1,"t":55,"v":21},{"s":1,"t":56,"v":19},{"s":1,"t":57,"v":22},{"s":1,"t":58,"v":18.5},{"s":1,"t":59,"v":21},{"s":1,"t":60,"v":19.5},
{"s":2,"t":0,"v":8},{"s":2,"t":1,"v":6.2},{"s":2,"t":5,"v":6},{"s":2,"t":10,"v":5.8},{"s":2,"t":20,"v":5.6},{"s":2,"t":30,"v":5.7},{"s":2,"t":35,"v":6},{"s":2,"t":36,"v":7.5},{"s":2,"t":37,"v":8},{"s":2,"t":40,"v":8.5},{"s":2,"t":42,"v":9},{"s":2,"t":43,"v":15},{"s":2,"t":44,"v":20},{"s":2,"t":45,"v":24},{"s":2,"t":46,"v":19},{"s":2,"t":47,"v":23},{"s":2,"t":48,"v":20},{"s":2,"t":49,"v":24},{"s":2,"t":50,"v":18},{"s":2,"t":51,"v":22},{"s":2,"t":52,"v":19},{"s":2,"t":53,"v":23},{"s":2,"t":54,"v":18},{"s":2,"t":55,"v":21},{"s":2,"t":56,"v":19},{"s":2,"t":57,"v":23.5},{"s":2,"t":58,"v":20},{"s":2,"t":59,"v":22},{"s":2,"t":60,"v":21},
{"s":3,"t":0,"v":7.8},{"s":3,"t":1,"v":6},{"s":3,"t":5,"v":5.8},{"s":3,"t":10,"v":5.6},{"s":3,"t":15,"v":5.4},{"s":3,"t":20,"v":5.3},{"s":3,"t":25,"v":5.5},{"s":3,"t":25.5,"v":12},{"s":3,"t":26,"v":19},{"s":3,"t":27,"v":15},{"s":3,"t":28,"v":12},{"s":3,"t":29,"v":14},{"s":3,"t":30,"v":10},{"s":3,"t":31,"v":13},{"s":3,"t":32,"v":9.5},{"s":3,"t":33,"v":14},{"s":3,"t":34,"v":11},{"s":3,"t":35,"v":15},{"s":3,"t":36,"v":10},{"s":3,"t":37,"v":16},{"s":3,"t":38,"v":12},{"s":3,"t":39,"v":17},{"s":3,"t":40,"v":11},{"s":3,"t":41,"v":15},{"s":3,"t":42,"v":9},{"s":3,"t":43,"v":18},{"s":3,"t":44,"v":12},{"s":3,"t":45,"v":19},{"s":3,"t":46,"v":13},{"s":3,"t":47,"v":17},{"s":3,"t":48,"v":10},{"s":3,"t":49,"v":19},{"s":3,"t":50,"v":14},{"s":3,"t":51,"v":21},{"s":3,"t":52,"v":12},{"s":3,"t":53,"v":20},{"s":3,"t":54,"v":15},{"s":3,"t":55,"v":22},{"s":3,"t":56,"v":17},{"s":3,"t":57,"v":25},{"s":3,"t":58,"v":19},{"s":3,"t":59,"v":24},{"s":3,"t":60,"v":22}],
"d5":[{"s":1,"t":0,"v":11.5},{"s":1,"t":0.5,"v":9.5},{"s":1,"t":1,"v":8.5},{"s":1,"t":2,"v":7.9},{"s":1,"t":3,"v":7.6},{"s":1,"t":5,"v":7.4},{"s":1,"t":7,"v":7},{"s":1,"t":9,"v":7.4},{"s":1,"t":12,"v":7},{"s":1,"t":15,"v":7.1},{"s":1,"t":18,"v":6.6},{"s":1,"t":21,"v":6.9},{"s":1,"t":25,"v":6.5},{"s":1,"t":30,"v":6.7},{"s":1,"t":33,"v":6.2},{"s":1,"t":36,"v":6.3},{"s":1,"t":40,"v":5.9},{"s":1,"t":45,"v":5.9},{"s":1,"t":50,"v":5.5},{"s":1,"t":55,"v":5.5},{"s":1,"t":60,"v":5.2},
{"s":2,"t":0,"v":11},{"s":2,"t":0.5,"v":9},{"s":2,"t":1,"v":7.8},{"s":2,"t":2,"v":7.1},{"s":2,"t":3,"v":6.8},{"s":2,"t":5,"v":6.6},{"s":2,"t":10,"v":6.4},{"s":2,"t":15,"v":6.2},{"s":2,"t":20,"v":6},{"s":2,"t":25,"v":5.9},{"s":2,"t":30,"v":5.8},{"s":2,"t":35,"v":5.6},{"s":2,"t":40,"v":5.4},{"s":2,"t":45,"v":5.3},{"s":2,"t":50,"v":5.1},{"s":2,"t":55,"v":5},{"s":2,"t":60,"v":4.9},
{"s":3,"t":0,"v":10},{"s":3,"t":0.5,"v":8},{"s":3,"t":1,"v":6.8},{"s":3,"t":2,"v":6.1},{"s":3,"t":3,"v":5.9},{"s":3,"t":5,"v":5.7},{"s":3,"t":10,"v":5.5},{"s":3,"t":15,"v":5.4},{"s":3,"t":20,"v":5.3},{"s":3,"t":25,"v":5.2},{"s":3,"t":30,"v":5.1},{"s":3,"t":35,"v":5},{"s":3,"t":40,"v":4.9},{"s":3,"t":45,"v":4.7},{"s":3,"t":50,"v":4.5},{"s":3,"t":55,"v":4.4},{"s":3,"t":60,"v":4.3}],
"e1":[{"s":1,"t":0,"v":4},{"s":1,"t":3,"v":4.3},{"s":1,"t":6,"v":5},{"s":1,"t":10,"v":5.5},{"s":1,"t":15,"v":5.6},{"s":1,"t":20,"v":5.5},{"s":1,"t":30,"v":5.4},{"s":1,"t":40,"v":5.3},{"s":1,"t":50,"v":5.3},{"s":1,"t":55,"v":5.4},{"s":1,"t":60,"v":5.5},
{"s":2,"t":0,"v":4},{"s":2,"t":3,"v":4.1},{"s":2,"t":6,"v":4.5},{"s":2,"t":8,"v":6},{"s":2,"t":10,"v":7.2},{"s":2,"t":11,"v":7.9},{"s":2,"t":12,"v":7.3},{"s":2,"t":13,"v":8.1},{"s":2,"t":14,"v":7.4},{"s":2,"t":15,"v":8},{"s":2,"t":16,"v":7.2},{"s":2,"t":17,"v":7.9},{"s":2,"t":18,"v":7.5},{"s":2,"t":19,"v":8.2},{"s":2,"t":20,"v":7.3},{"s":2,"t":21,"v":7.8},{"s":2,"t":22,"v":7.4},{"s":2,"t":23,"v":8.1},{"s":2,"t":24,"v":7.2},{"s":2,"t":25,"v":8},{"s":2,"t":26,"v":7.5},{"s":2,"t":27,"v":7.9},{"s":2,"t":28,"v":7.3},{"s":2,"t":29,"v":8.1},{"s":2,"t":30,"v":7.4},{"s":2,"t":31,"v":8},{"s":2,"t":32,"v":7.3},{"s":2,"t":33,"v":7.8},{"s":2,"t":34,"v":7.5},{"s":2,"t":35,"v":8.2},{"s":2,"t":36,"v":7.4},{"s":2,"t":37,"v":7.9},{"s":2,"t":38,"v":7.3},{"s":2,"t":39,"v":8.1},{"s":2,"t":40,"v":7.4},{"s":2,"t":41,"v":8},{"s":2,"t":42,"v":7.5},{"s":2,"t":43,"v":8.3},{"s":2,"t":44,"v":7.6},{"s":2,"t":45,"v":8.4},{"s":2,"t":46,"v":7.5},{"s":2,"t":47,"v":8.1},{"s":2,"t":48,"v":7.4},{"s":2,"t":49,"v":7.9},{"s":2,"t":50,"v":7.5},{"s":2,"t":51,"v":8},{"s":2,"t":52,"v":7.6},{"s":2,"t":53,"v":7.9},{"s":2,"t":54,"v":8.5},{"s":2,"t":55,"v":9.5},{"s":2,"t":56,"v":10.5},{"s":2,"t":57,"v":11.5},{"s":2,"t":58,"v":13},{"s":2,"t":58.5,"v":16},{"s":2,"t":59,"v":22},{"s":2,"t":59.5,"v":30},{"s":2,"t":60,"v":36},
{"s":3,"t":0,"v":3.8},{"s":3,"t":4,"v":3.8},{"s":3,"t":7,"v":4.5},{"s":3,"t":9,"v":5.8},{"s":3,"t":11,"v":6.5},{"s":3,"t":15,"v":6.2},{"s":3,"t":20,"v":6},{"s":3,"t":30,"v":5.9},{"s":3,"t":40,"v":5.9},{"s":3,"t":50,"v":5.8},{"s":3,"t":55,"v":5.9},{"s":3,"t":58,"v":6},{"s":3,"t":60,"v":5.6}],
"e2":[{"s":1,"t":0,"v":6.3},{"s":1,"t":1,"v":4.9},{"s":1,"t":20,"v":4.9},{"s":1,"t":30,"v":4.7},{"s":1,"t":40,"v":4.6},{"s":1,"t":50,"v":4.5},{"s":1,"t":60,"v":4.4},
{"s":2,"t":0,"v":6},{"s":2,"t":1,"v":4.8},{"s":2,"t":20,"v":4.8},{"s":2,"t":30,"v":4.7},{"s":2,"t":40,"v":4.6},{"s":2,"t":50,"v":4.3},{"s":2,"t":60,"v":4.1},
{"s":3,"t":0,"v":5.8},{"s":3,"t":1,"v":4.7},{"s":3,"t":20,"v":4.8},{"s":3,"t":30,"v":4.7},{"s":3,"t":40,"v":4.5},{"s":3,"t":50,"v":4.2},{"s":3,"t":60,"v":4}],
"e3":[{"s":1,"t":0,"v":4.5},{"s":1,"t":0.7,"v":3},{"s":1,"t":20,"v":2.9},{"s":1,"t":40,"v":2.8},{"s":1,"t":60,"v":2.7},
{"s":2,"t":0,"v":4.4},{"s":2,"t":0.7,"v":3},{"s":2,"t":20,"v":2.9},{"s":2,"t":40,"v":2.8},{"s":2,"t":60,"v":2.7},
{"s":3,"t":0,"v":4.3},{"s":3,"t":0.7,"v":3},{"s":3,"t":10,"v":3},{"s":3,"t":30,"v":2.9},{"s":3,"t":50,"v":2.7},{"s":3,"t":60,"v":2.7}],
"e4":[{"s":1,"t":0,"v":9},{"s":1,"t":1,"v":7},{"s":1,"t":5,"v":6.5},{"s":1,"t":10,"v":6.3},{"s":1,"t":15,"v":6},{"s":1,"t":17.5,"v":6.2},{"s":1,"t":18,"v":8.5},{"s":1,"t":18.5,"v":5.6},{"s":1,"t":19,"v":8.9},{"s":1,"t":19.5,"v":6},{"s":1,"t":20,"v":9.1},{"s":1,"t":20.5,"v":5.8},{"s":1,"t":21,"v":8.6},{"s":1,"t":21.5,"v":6.1},{"s":1,"t":22,"v":9},{"s":1,"t":22.5,"v":5.7},{"s":1,"t":23,"v":8.7},{"s":1,"t":23.5,"v":6},{"s":1,"t":24,"v":9.3},{"s":1,"t":24.5,"v":5.9},{"s":1,"t":25,"v":8.8},{"s":1,"t":25.5,"v":5.6},{"s":1,"t":26,"v":8.6},{"s":1,"t":26.5,"v":6.1},{"s":1,"t":27,"v":9},{"s":1,"t":27.5,"v":5.8},{"s":1,"t":28,"v":8.9},{"s":1,"t":28.5,"v":5.9},{"s":1,"t":29,"v":8.4},{"s":1,"t":29.5,"v":6},{"s":1,"t":30,"v":8.8},{"s":1,"t":30.5,"v":5.7},{"s":1,"t":31,"v":8.6},{"s":1,"t":31.5,"v":5.9},{"s":1,"t":32,"v":9},{"s":1,"t":32.5,"v":5.6},{"s":1,"t":33,"v":8.5},{"s":1,"t":33.5,"v":6},{"s":1,"t":34,"v":8.7},{"s":1,"t":34.5,"v":5.7},{"s":1,"t":35,"v":8.3},{"s":1,"t":35.5,"v":5.8},{"s":1,"t":36,"v":8.8},{"s":1,"t":36.5,"v":5.6},{"s":1,"t":37,"v":8.5},{"s":1,"t":37.5,"v":5.9},{"s":1,"t":38,"v":8.4},{"s":1,"t":38.5,"v":5.5},{"s":1,"t":39,"v":8.6},{"s":1,"t":39.5,"v":5.8},{"s":1,"t":40,"v":8.2},{"s":1,"t":40.5,"v":5.5},{"s":1,"t":41,"v":8.4},{"s":1,"t":41.5,"v":5.7},{"s":1,"t":42,"v":8},{"s":1,"t":42.5,"v":5.4},{"s":1,"t":43,"v":8.3},{"s":1,"t":43.5,"v":5.8},{"s":1,"t":44,"v":8.1},{"s":1,"t":44.5,"v":5.4},{"s":1,"t":45,"v":7.9},{"s":1,"t":45.5,"v":5.6},{"s":1,"t":46,"v":8.2},{"s":1,"t":46.5,"v":5.3},{"s":1,"t":47,"v":7.8},{"s":1,"t":47.5,"v":5.6},{"s":1,"t":48,"v":8},{"s":1,"t":48.5,"v":5.3},{"s":1,"t":49,"v":7.7},{"s":1,"t":49.5,"v":5.5},{"s":1,"t":50,"v":7.9},{"s":1,"t":50.5,"v":5.2},{"s":1,"t":51,"v":7.6},{"s":1,"t":51.5,"v":5.4},{"s":1,"t":52,"v":7.9},{"s":1,"t":52.5,"v":5.2},{"s":1,"t":53,"v":7.7},{"s":1,"t":53.5,"v":5.4},{"s":1,"t":54,"v":8},{"s":1,"t":54.5,"v":5.2},{"s":1,"t":55,"v":7.6},{"s":1,"t":55.5,"v":5.3},{"s":1,"t":56,"v":7.9},{"s":1,"t":56.5,"v":5.1},{"s":1,"t":57,"v":7.5},{"s":1,"t":57.5,"v":5.3},{"s":1,"t":58,"v":7.8},{"s":1,"t":58.5,"v":5.1},{"s":1,"t":59,"v":7.6},{"s":1,"t":59.5,"v":5.2},{"s":1,"t":60,"v":7.8},
{"s":2,"t":0,"v":8.5},{"s":2,"t":1,"v":6.5},{"s":2,"t":5,"v":6.2},{"s":2,"t":10,"v":6},{"s":2,"t":15,"v":5.7},{"s":2,"t":20,"v":5.4},{"s":2,"t":25,"v":5.2},{"s":2,"t":30,"v":5.1},{"s":2,"t":40,"v":5},{"s":2,"t":50,"v":4.9},{"s":2,"t":60,"v":5},
{"s":3,"t":0,"v":8},{"s":3,"t":1,"v":6.3},{"s":3,"t":5,"v":6},{"s":3,"t":10,"v":5.8},{"s":3,"t":15,"v":5.5},{"s":3,"t":20,"v":5.2},{"s":3,"t":25,"v":5},{"s":3,"t":30,"v":4.9},{"s":3,"t":40,"v":4.8},{"s":3,"t":50,"v":4.7},{"s":3,"t":52,"v":5},{"s":3,"t":53,"v":7},{"s":3,"t":54,"v":10},{"s":3,"t":55,"v":14},{"s":3,"t":56,"v":19},{"s":3,"t":56.5,"v":22},{"s":3,"t":57,"v":20},{"s":3,"t":57.5,"v":24},{"s":3,"t":58,"v":22},{"s":3,"t":58.5,"v":26},{"s":3,"t":59,"v":23},{"s":3,"t":59.5,"v":27},{"s":3,"t":60,"v":24}],
"e5":[{"s":1,"t":0,"v":11.5},{"s":1,"t":0.5,"v":9},{"s":1,"t":1,"v":7.8},{"s":1,"t":2,"v":7},{"s":1,"t":3,"v":6.7},{"s":1,"t":5,"v":6.5},{"s":1,"t":10,"v":6.2},{"s":1,"t":15,"v":6},{"s":1,"t":20,"v":5.8},{"s":1,"t":23,"v":5.8},{"s":1,"t":24,"v":6.3},{"s":1,"t":25,"v":5.6},{"s":1,"t":30,"v":5.4},{"s":1,"t":35,"v":5.2},{"s":1,"t":40,"v":5},{"s":1,"t":45,"v":4.8},{"s":1,"t":50,"v":4.6},{"s":1,"t":55,"v":4.4},{"s":1,"t":60,"v":4.2},
{"s":2,"t":0,"v":11},{"s":2,"t":0.5,"v":8.5},{"s":2,"t":1,"v":7.3},{"s":2,"t":2,"v":6.7},{"s":2,"t":3,"v":6.4},{"s":2,"t":5,"v":6.2},{"s":2,"t":10,"v":6},{"s":2,"t":15,"v":5.8},{"s":2,"t":20,"v":5.6},{"s":2,"t":30,"v":5.2},{"s":2,"t":40,"v":4.9},{"s":2,"t":50,"v":4.5},{"s":2,"t":60,"v":4.1},
{"s":3,"t":0,"v":10.5},{"s":3,"t":0.5,"v":8},{"s":3,"t":1,"v":7},{"s":3,"t":2,"v":6.4},{"s":3,"t":3,"v":6.1},{"s":3,"t":5,"v":5.9},{"s":3,"t":10,"v":5.7},{"s":3,"t":15,"v":5.6},{"s":3,"t":20,"v":5.4},{"s":3,"t":30,"v":5.1},{"s":3,"t":40,"v":4.8},{"s":3,"t":50,"v":4.4},{"s":3,"t":55,"v":4},{"s":3,"t":60,"v":3.9}]
},
"concat":[
{"width":29,"height":68,"title":{"text":"Dilution","offset":17},"data":{"values":[{"l":"10⁻⁴"}]},"mark":{"type":"text","fontSize":21},"encoding":{"text":{"field":"l"}}},
{"title":"PBS","data":{"name":"a1"},"mark":"line","encoding":{"x":{"field":"t","type":"quantitative","title":null,"scale":{"domain":[0,60]},"axis":{"values":[0,20,40,60]}},"y":{"field":"v","type":"quantitative","title":null,"scale":{"domain":[0,30]},"axis":{"values":[0,10,20,30]}},"color":{"field":"s","type":"nominal"}}},
{"title":"Mo NBH","data":{"name":"a2"},"mark":"line","encoding":{"x":{"field":"t","type":"quantitative","title":null,"scale":{"domain":[0,60]},"axis":{"values":[0,20,40,60]}},"y":{"field":"v","type":"quantitative","title":null,"scale":{"domain":[0,30]},"axis":{"values":[0,10,20,30]}},"color":{"field":"s","type":"nominal"}}},
{"title":"EtOH sup","data":{"name":"a3"},"mark":"line","encoding":{"x":{"field":"t","type":"quantitative","title":null,"scale":{"domain":[0,60]},"axis":{"values":[0,20,40,60]}},"y":{"field":"v","type":"quantitative","title":null,"scale":{"domain":[0,15]},"axis":{"values":[0,5,10,15]}},"color":{"field":"s","type":"nominal"}}},
{"title":"EtOH ppt","data":{"name":"a4"},"mark":"line","encoding":{"x":{"field":"t","type":"quantitative","title":null,"scale":{"domain":[0,60]},"axis":{"values":[0,20,40,60]}},"y":{"field":"v","type":"quantitative","title":null,"scale":{"domain":[0,45]},"axis":{"values":[0,15,30,45]}},"color":{"field":"s","type":"nominal"}}},
{"title":{"text":["EtOH","sup + ppt"],"offset":-3},"data":{"name":"a5"},"mark":"line","encoding":{"x":{"field":"t","type":"quantitative","title":null,"scale":{"domain":[0,60]},"axis":{"values":[0,20,40,60]}},"y":{"field":"v","type":"quantitative","title":null,"scale":{"domain":[0,15]},"axis":{"values":[0,5,10,15]}},"color":{"field":"s","type":"nominal"}}},
{"width":29,"height":68,"data":{"values":[{"l":"10⁻⁵"}]},"mark":{"type":"text","fontSize":21},"encoding":{"text":{"field":"l"}}},
{"data":{"name":"b1"},"mark":"line","encoding":{"x":{"field":"t","type":"quantitative","title":null,"scale":{"domain":[0,60]},"axis":{"values":[0,20,40,60]}},"y":{"field":"v","type":"quantitative","title":null,"scale":{"domain":[0,60]},"axis":{"values":[0,20,40,60]}},"color":{"field":"s","type":"nominal"}}},
{"data":{"name":"b2"},"mark":"line","encoding":{"x":{"field":"t","type":"quantitative","title":null,"scale":{"domain":[0,60]},"axis":{"values":[0,20,40,60]}},"y":{"field":"v","type":"quantitative","title":null,"scale":{"domain":[0,21]},"axis":{"values":[0,7,14,21]}},"color":{"field":"s","type":"nominal"}}},
{"data":{"name":"b3"},"mark":"line","encoding":{"x":{"field":"t","type":"quantitative","title":null,"scale":{"domain":[0,60]},"axis":{"values":[0,20,40,60]}},"y":{"field":"v","type":"quantitative","title":null,"scale":{"domain":[0,15]},"axis":{"values":[0,5,10,15]}},"color":{"field":"s","type":"nominal"}}},
{"data":{"name":"b4"},"mark":"line","encoding":{"x":{"field":"t","type":"quantitative","title":null,"scale":{"domain":[0,60]},"axis":{"values":[0,20,40,60]}},"y":{"field":"v","type":"quantitative","title":null,"scale":{"domain":[0,36]},"axis":{"values":[0,12,24,36]}},"color":{"field":"s","type":"nominal"}}},
{"data":{"name":"b5"},"mark":"line","encoding":{"x":{"field":"t","type":"quantitative","title":null,"scale":{"domain":[0,60]},"axis":{"values":[0,20,40,60]}},"y":{"field":"v","type":"quantitative","title":null,"scale":{"domain":[0,15]},"axis":{"values":[0,5,10,15]}},"color":{"field":"s","type":"nominal"}}},
{"width":29,"height":68,"data":{"values":[{"l":"10⁻⁶"}]},"mark":{"type":"text","fontSize":21},"encoding":{"text":{"field":"l"}}},
{"data":{"name":"c1"},"mark":"line","encoding":{"x":{"field":"t","type":"quantitative","title":null,"scale":{"domain":[0,60]},"axis":{"values":[0,20,40,60]}},"y":{"field":"v","type":"quantitative","title":null,"scale":{"domain":[0,72]},"axis":{"values":[0,24,48,72]}},"color":{"field":"s","type":"nominal"}}},
{"data":{"name":"c2"},"mark":"line","encoding":{"x":{"field":"t","type":"quantitative","title":null,"scale":{"domain":[0,60]},"axis":{"values":[0,20,40,60]}},"y":{"field":"v","type":"quantitative","title":null,"scale":{"domain":[0,18]},"axis":{"values":[0,6,12,18]}},"color":{"field":"s","type":"nominal"}}},
{"data":{"name":"c3"},"mark":"line","encoding":{"x":{"field":"t","type":"quantitative","title":null,"scale":{"domain":[0,60]},"axis":{"values":[0,20,40,60]}},"y":{"field":"v","type":"quantitative","title":null,"scale":{"domain":[0,15]},"axis":{"values":[0,5,10,15]}},"color":{"field":"s","type":"nominal"}}},
{"data":{"name":"c4"},"mark":"line","encoding":{"x":{"field":"t","type":"quantitative","title":null,"scale":{"domain":[0,60]},"axis":{"values":[0,20,40,60]}},"y":{"field":"v","type":"quantitative","title":null,"scale":{"domain":[0,36]},"axis":{"values":[0,12,24,36]}},"color":{"field":"s","type":"nominal"}}},
{"data":{"name":"c5"},"mark":"line","encoding":{"x":{"field":"t","type":"quantitative","title":null,"scale":{"domain":[0,60]},"axis":{"values":[0,20,40,60]}},"y":{"field":"v","type":"quantitative","title":null,"scale":{"domain":[0,15]},"axis":{"values":[0,5,10,15]}},"color":{"field":"s","type":"nominal"}}},
{"width":29,"height":68,"data":{"values":[{"l":"10⁻⁷"}]},"mark":{"type":"text","fontSize":21},"encoding":{"text":{"field":"l"}}},
{"data":{"name":"d1"},"mark":"line","encoding":{"x":{"field":"t","type":"quantitative","title":null,"scale":{"domain":[0,60]},"axis":{"values":[0,20,40,60]}},"y":{"field":"v","type":"quantitative","title":null,"scale":{"domain":[0,72]},"axis":{"values":[0,24,48,72]}},"color":{"field":"s","type":"nominal"}}},
{"data":{"name":"d2"},"mark":"line","encoding":{"x":{"field":"t","type":"quantitative","title":null,"scale":{"domain":[0,60]},"axis":{"values":[0,20,40,60]}},"y":{"field":"v","type":"quantitative","title":null,"scale":{"domain":[0,15]},"axis":{"values":[0,5,10,15]}},"color":{"field":"s","type":"nominal"}}},
{"data":{"name":"d3"},"mark":"line","encoding":{"x":{"field":"t","type":"quantitative","title":null,"scale":{"domain":[0,60]},"axis":{"values":[0,20,40,60]}},"y":{"field":"v","type":"quantitative","title":null,"scale":{"domain":[0,15]},"axis":{"values":[0,5,10,15]}},"color":{"field":"s","type":"nominal"}}},
{"data":{"name":"d4"},"mark":"line","encoding":{"x":{"field":"t","type":"quantitative","title":null,"scale":{"domain":[0,60]},"axis":{"values":[0,20,40,60]}},"y":{"field":"v","type":"quantitative","title":null,"scale":{"domain":[0,30]},"axis":{"values":[0,10,20,30]}},"color":{"field":"s","type":"nominal"}}},
{"data":{"name":"d5"},"mark":"line","encoding":{"x":{"field":"t","type":"quantitative","title":null,"scale":{"domain":[0,60]},"axis":{"values":[0,20,40,60]}},"y":{"field":"v","type":"quantitative","title":null,"scale":{"domain":[0,15]},"axis":{"values":[0,5,10,15]}},"color":{"field":"s","type":"nominal"}}},
{"width":29,"height":68,"data":{"values":[{"l":"10⁻⁸"}]},"mark":{"type":"text","fontSize":21},"encoding":{"text":{"field":"l"}}},
{"data":{"name":"e1"},"mark":"line","encoding":{"x":{"field":"t","type":"quantitative","title":null,"scale":{"domain":[0,60]},"axis":{"values":[0,20,40,60]}},"y":{"field":"v","type":"quantitative","title":null,"scale":{"domain":[0,42]},"axis":{"values":[0,14,28,42]}},"color":{"field":"s","type":"nominal"}}},
{"data":{"name":"e2"},"mark":"line","encoding":{"x":{"field":"t","type":"quantitative","title":null,"scale":{"domain":[0,60]},"axis":{"values":[0,20,40,60]}},"y":{"field":"v","type":"quantitative","title":null,"scale":{"domain":[0,15]},"axis":{"values":[0,5,10,15]}},"color":{"field":"s","type":"nominal"}}},
{"data":{"name":"e3"},"mark":"line","encoding":{"x":{"field":"t","type":"quantitative","title":"Time (h)","scale":{"domain":[0,60]},"axis":{"values":[0,20,40,60],"titleX":40}},"y":{"field":"v","type":"quantitative","title":null,"scale":{"domain":[0,15]},"axis":{"values":[0,5,10,15]}},"color":{"field":"s","type":"nominal"}}},
{"data":{"name":"e4"},"mark":"line","encoding":{"x":{"field":"t","type":"quantitative","title":null,"scale":{"domain":[0,60]},"axis":{"values":[0,20,40,60]}},"y":{"field":"v","type":"quantitative","title":null,"scale":{"domain":[0,30]},"axis":{"values":[0,10,20,30]}},"color":{"field":"s","type":"nominal"}}},
{"data":{"name":"e5"},"mark":"line","encoding":{"x":{"field":"t","type":"quantitative","title":null,"scale":{"domain":[0,60]},"axis":{"values":[0,20,40,60]}},"y":{"field":"v","type":"quantitative","title":null,"scale":{"domain":[0,15]},"axis":{"values":[0,5,10,15]}},"color":{"field":"s","type":"nominal"}}}
],
"config":{
"font":"Liberation Sans",
"view":{"stroke":null,"continuousWidth":103,"continuousHeight":68},
"line":{"strokeWidth":1.8},
"text":{"font":"Liberation Sans","color":"#000"},
"range":{"category":["#FF0000","#FF6600","#FFC000"]},
"legend":{"disable":true},
"axis":{"labelFont":"Liberation Sans","labelFontSize":15,"labelColor":"#404040","labelFlush":false,"domainColor":"#7f7f7f","tickColor":"#7f7f7f","gridColor":"#d9d9d9","titleFont":"Liberation Sans","titleFontSize":16,"titleFontWeight":"normal","titleColor":"#262626","titlePadding":6},
"axisX":{"grid":false,"tickSize":5,"labelPadding":3},
"axisY":{"tickSize":6,"labelPadding":6},
"title":{"font":"Liberation Sans","fontSize":21,"fontWeight":"normal","color":"#000","baseline":"middle","offset":10,"lineHeight":24}
}
}
